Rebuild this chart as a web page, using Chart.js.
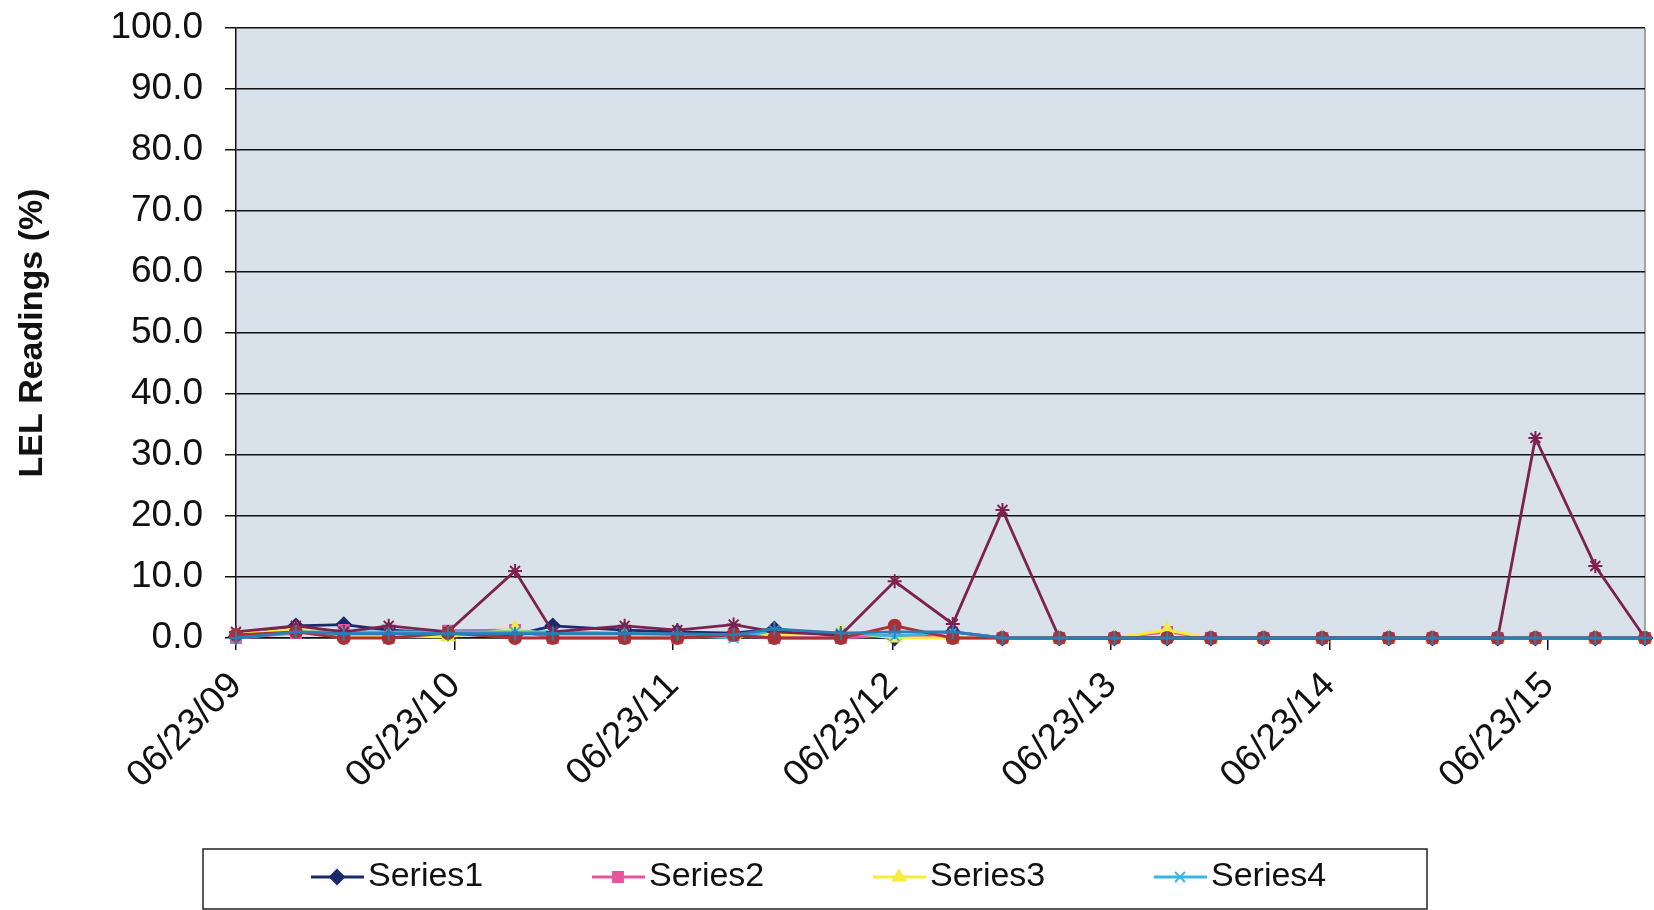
<!DOCTYPE html>
<html>
<head>
<meta charset="utf-8">
<script src="https://cdn.jsdelivr.net/npm/chart.js@4.4.1/dist/chart.umd.min.js"></script>
<style>
  html, body { margin: 0; padding: 0; background: #fff; }
  #wrap { width: 1654px; height: 910px; }
</style>
</head>
<body>
<div id="wrap"><canvas id="theGraph" width="1654" height="910"></canvas></div>
<script>
// sample dates (quarterly LEL monitoring)
var sampleDates = [
  '2009-06-23', '2009-10-01', '2009-12-20', '2010-03-05', '2010-06-12', '2010-10-02', '2010-12-04',
  '2011-04-03', '2011-06-30', '2011-10-02', '2011-12-09', '2012-03-29', '2012-06-27', '2012-10-02',
  '2012-12-24', '2013-03-29', '2013-06-29', '2013-09-25', '2013-12-07', '2014-03-05', '2014-06-11',
  '2014-09-30', '2014-12-12', '2015-03-31', '2015-06-02', '2015-09-10', '2015-12-02'
];

var tickLabels = ['06/23/09', '06/23/10', '06/23/11', '06/23/12', '06/23/13', '06/23/14', '06/23/15'];

var seriesNames = ['Series1', 'Series2', 'Series3', 'Series4', 'Series5', 'Series6', 'Series7'];

var series1 = [0.2, 2, 2.2, 1.3, 0.8, 0.5, 2, 1.3, 1, 0.8, 1.5, 0.3, 0, 1, 0, 0, 0, 0, 0, 0, 0, 0, 0, 0, 0, 0, 0];
var series2 = [0, 0.8, 1.3, 0, 1.2, 1.3, 0, 0, 0, 0.5, 0, 0, 0.5, 0, 0, 0, 0, 1, 0, 0, 0, 0, 0, 0, 0, 0, 0];
var series3 = [0.5, 1.5, 0.5, 0.3, 0.2, 1.5, 0.5, 0.5, 0.5, 0.5, 0.5, 1, 0, 0, 0, 0, 0, 1.3, 0, 0, 0, 0, 0, 0, 0, 0, 0];
var series4 = [0, 1, 1, 1, 1, 1, 1, 0.8, 0.5, 0, 1.2, 0.8, 0.3, 1, 0, 0, 0, 0, 0, 0, 0, 0, 0, 0, 0, 0, 0];
var series5 = [1, 2, 1, 2, 1, 11, 1, 2, 1.3, 2.2, 1, 0.5, 9.3, 2.3, 21, 0, 0, 0, 0, 0, 0, 0, 0, 0, 32.8, 11.8, 0];
var series6 = [0.5, 1, 0, 0, 0.8, 0, 0, 0, 0, 0.5, 0, 0, 2, 0, 0, 0, 0, 0, 0, 0, 0, 0, 0, 0, 0, 0, 0];
var series7 = [0, 1, 0.7, 0.7, 0.7, 0.7, 0.7, 0.7, 0.7, 0.5, 1.5, 0.8, 1, 1, 0, 0, 0, 0, 0, 0, 0, 0, 0, 0, 0, 0, 0];

var seriesColors = ['#1c2a6b', '#e4569b', '#f5ec3e', '#3bb5e6', '#7d2150', '#a83238', '#2a7db5'];
var seriesMarkers = ['rectRot', 'rect', 'triangle', 'crossRot', 'star', 'circle', 'cross'];

var DAY = 86400000;
function isoToDay(s) { return Date.parse(s + 'T00:00:00Z') / DAY; }
function labelToDay(s) {
  var p = s.split('/');
  return Date.UTC(2000 + parseInt(p[2], 10), parseInt(p[0], 10) - 1, parseInt(p[1], 10)) / DAY;
}

var xDays = sampleDates.map(isoToDay);
var tickDays = tickLabels.map(labelToDay);

var allValues = [series1, series2, series3, series4, series5, series6, series7];
var datasets = allValues.map(function (vals, i) {
  return {
    label: seriesNames[i],
    data: vals.map(function (v, j) { return { x: xDays[j], y: v }; }),
    borderColor: seriesColors[i],
    backgroundColor: seriesColors[i],
    pointBorderColor: seriesColors[i],
    pointBackgroundColor: seriesColors[i],
    pointStyle: seriesMarkers[i],
    pointRadius: seriesMarkers[i] === 'circle' ? 6 : 7,
    pointBorderWidth: 2,
    borderWidth: 2.8,
    tension: 0,
    clip: false,
    order: allValues.length - i   // later series drawn on top, like Excel
  };
});

var FONT = "'Liberation Sans', Arial, sans-serif";

// plot area fill + right border
var plotBg = {
  id: 'plotBg',
  beforeDraw: function (chart) {
    var a = chart.chartArea, ctx = chart.ctx;
    ctx.save();
    ctx.fillStyle = '#d9e2ea';
    ctx.fillRect(a.left, a.top, a.right - a.left, a.bottom - a.top);
    ctx.strokeStyle = '#8a8a8a';
    ctx.lineWidth = 1.5;
    ctx.beginPath();
    ctx.moveTo(a.right, a.top);
    ctx.lineTo(a.right, a.bottom);
    ctx.stroke();
    ctx.restore();
  }
};

// boxed legend at the bottom (first row only, like the scan)
var boxLegend = {
  id: 'boxLegend',
  afterDraw: function (chart) {
    var ctx = chart.ctx;
    var boxL = 203, boxW = 1224, boxT = 849;
    ctx.save();
    ctx.strokeStyle = '#222';
    ctx.lineWidth = 1.5;
    ctx.strokeRect(boxL, boxT, boxW, 60);
    var cy = 877;
    for (var i = 0; i < 4; i++) {
      var ds = chart.data.datasets[i];
      var sx = 311 + i * 281;
      ctx.strokeStyle = ds.borderColor;
      ctx.lineWidth = 2.8;
      ctx.beginPath();
      ctx.moveTo(sx, cy);
      ctx.lineTo(sx + 53, cy);
      ctx.stroke();
      ctx.fillStyle = ds.borderColor;
      ctx.lineWidth = 2;
      Chart.helpers.drawPoint(ctx, {
        pointStyle: ds.pointStyle, radius: 7, borderWidth: 2, rotation: 0
      }, sx + 26, cy);
      ctx.fillStyle = '#111';
      ctx.font = '34px ' + FONT;
      ctx.textBaseline = 'middle';
      ctx.textAlign = 'left';
      ctx.fillText(ds.label, sx + 57, cy);
    }
    ctx.restore();
  }
};

var ctx = document.getElementById('theGraph').getContext('2d');
var chart = new Chart(ctx, {
  type: 'line',
  data: { datasets: datasets },
  options: {
    responsive: false,
    animation: false,
    layout: { padding: { top: 28, right: 3, left: 0, bottom: 0 } },
    plugins: {
      legend: { display: false },
      tooltip: { enabled: false }
    },
    scales: {
      x: {
        type: 'linear',
        min: xDays[0],
        max: xDays[xDays.length - 1],
        afterBuildTicks: function (scale) {
          scale.ticks = tickDays.map(function (d) { return { value: d }; });
        },
        afterFit: function (scale) {
          scale.height = 272;
          scale.paddingLeft = 0;
          scale.paddingRight = 0;
        },
        ticks: {
          autoSkip: false,
          minRotation: 45,
          maxRotation: 45,
          padding: 14,
          color: '#111',
          font: { family: FONT, size: 37 },
          callback: function (v) {
            var k = tickDays.indexOf(v);
            return k >= 0 ? tickLabels[k] : '';
          }
        },
        grid: { drawOnChartArea: false, drawTicks: true, tickLength: 12, color: '#111', lineWidth: 1.5 },
        border: { display: true, color: '#111', width: 1.5 }
      },
      y: {
        min: 0,
        max: 100,
        afterFit: function (scale) {
          scale.width = 236;
          scale.paddingTop = 0;
          scale.paddingBottom = 0;
        },
        ticks: {
          stepSize: 10,
          padding: 22,
          color: '#111',
          font: { family: FONT, size: 37 },
          callback: function (v) { return v.toFixed(1); }
        },
        grid: { color: '#111', lineWidth: 1.5, tickLength: 11 },
        border: { display: true, color: '#111', width: 1.5 },
        title: {
          display: true,
          text: 'LEL Readings (%)',
          color: '#111',
          font: { family: FONT, size: 34, weight: 'bold' },
          padding: { top: 12, bottom: 0 }
        }
      }
    }
  },
  plugins: [plotBg, boxLegend]
});
</script>
</body>
</html>
